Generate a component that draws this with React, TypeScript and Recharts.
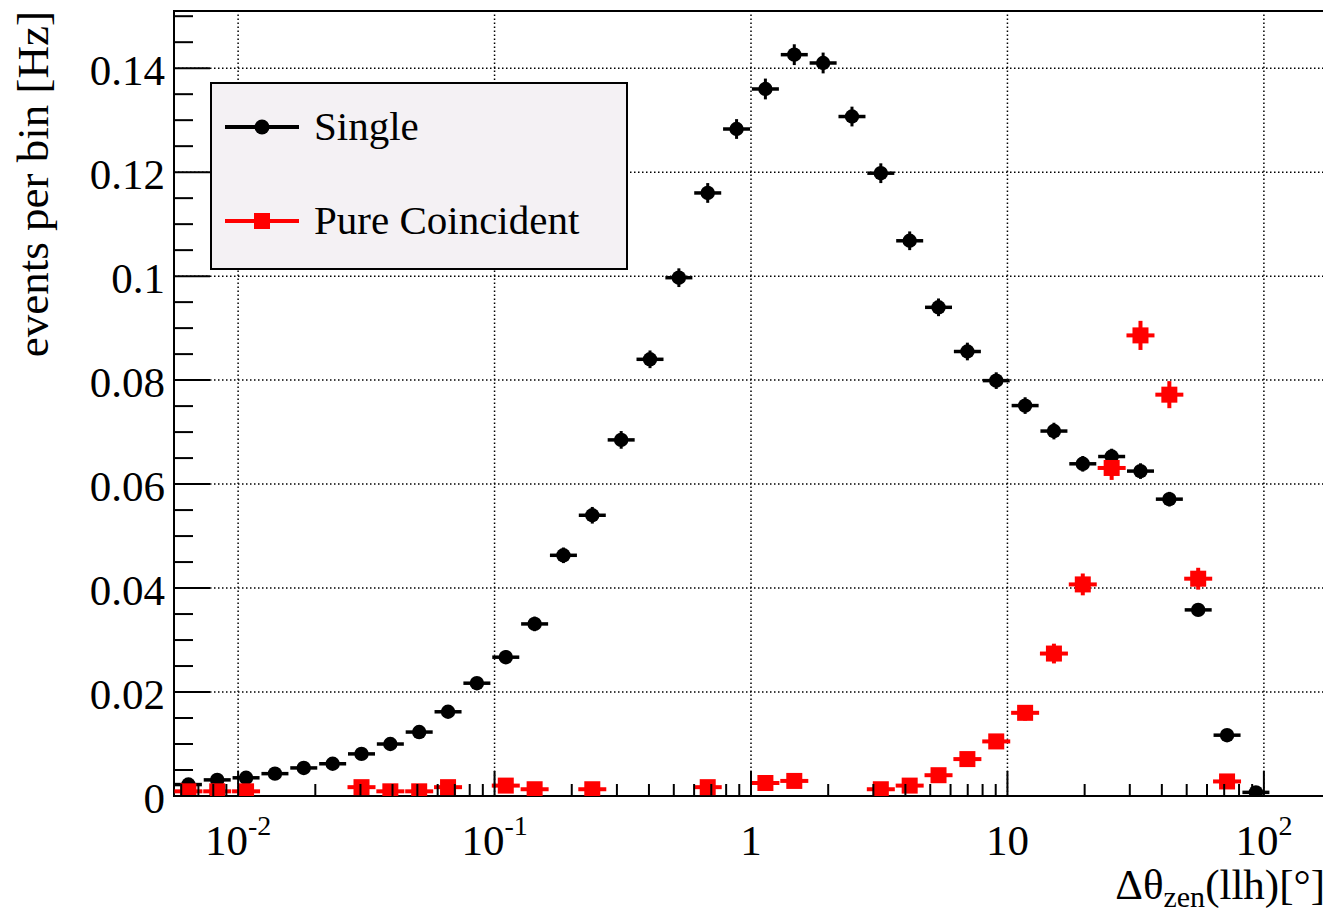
import React from 'react';
import { ScatterChart, Scatter, XAxis, YAxis, ErrorBar, ReferenceLine, ReferenceArea, Legend, Label } from 'recharts';

const FONT = '"Liberation Serif", "Times New Roman", serif';

// log bins, centres in degrees
const binCenters = [
  0.0064, 0.00829, 0.01074, 0.01392, 0.01803, 0.02337, 0.03028, 0.03923, 0.05083, 0.06586,
  0.08533, 0.1106, 0.1433, 0.1856, 0.2405, 0.3117, 0.4038, 0.5233, 0.678, 0.8785,
  1.138, 1.475, 1.911, 2.476, 3.208, 4.157, 5.386, 6.979, 9.043, 11.72,
  15.18, 19.67, 25.49, 33.02, 42.79, 55.44, 71.84, 93.08,
];

const singleRate = [
  0.0022, 0.0031, 0.0035, 0.0043, 0.0054, 0.0062, 0.0081, 0.01, 0.0123, 0.0162,
  0.0217, 0.0267, 0.0331, 0.0463, 0.054, 0.0685, 0.084, 0.0997, 0.116, 0.1283,
  0.136, 0.1426, 0.141, 0.1307, 0.1198, 0.1068, 0.094, 0.0855, 0.0799, 0.0751,
  0.0702, 0.0639, 0.0653, 0.0625, 0.0571, 0.0358, 0.0117, 0.0007,
];

const singleErr = [
  0.0004, 0.0005, 0.0005, 0.0006, 0.0006, 0.0007, 0.0008, 0.0009, 0.001, 0.0011,
  0.0012, 0.0013, 0.0014, 0.0015, 0.0016, 0.0017, 0.0017, 0.0018, 0.0019, 0.0019,
  0.002, 0.002, 0.002, 0.0019, 0.0019, 0.0018, 0.0017, 0.0017, 0.0016, 0.0016,
  0.0016, 0.0015, 0.0015, 0.0015, 0.0014, 0.0012, 0.0007, 0.0002,
];

const coincRate = [
  0.0009, 0.0009, 0.0009, null, null, null, 0.0017, 0.0009, 0.0009, 0.0017,
  null, 0.002, 0.0013, null, 0.0013, null, null, null, 0.0017, null,
  0.0025, 0.0029, null, null, 0.0013, 0.002, 0.004, 0.0071, 0.0105, 0.016,
  0.0274, 0.0407, 0.0631, 0.0886, 0.0772, 0.0418, 0.0028, null,
];

const coincErr = [
  0.0005, 0.0005, 0.0005, null, null, null, 0.0007, 0.0005, 0.0005, 0.0007,
  null, 0.0007, 0.0006, null, 0.0006, null, null, null, 0.0007, null,
  0.0008, 0.0008, null, null, 0.0006, 0.0007, 0.0009, 0.001, 0.0012, 0.0015,
  0.0019, 0.0021, 0.0023, 0.0028, 0.0026, 0.0021, 0.0008, null,
];

const seriesNames = ['Single', 'Pure Coincident'];
const seriesColors = ['#000000', '#ff0000'];

const yMajorTicks = [0, 0.02, 0.04, 0.06, 0.08, 0.1, 0.12, 0.14];
const yMajorLabels = ['0', '0.02', '0.04', '0.06', '0.08', '0.1', '0.12', '0.14'];
const xMajorTicks = [0.01, 0.1, 1, 10, 100];
const xTickBase = ['10', '10', '1', '10', '10'];
const xTickExp = ['-2', '-1', '', '', '2'];

const xMin = Math.pow(10, -2.25);
const xMax = Math.pow(10, 2.25);
const yMax = 0.151;

const yTicks: number[] = [];
for (let k = 0; k <= 30; k++) yTicks.push(+(k * 0.005).toFixed(3));

const xTicks: number[] = [];
[0.001, 0.01, 0.1, 1, 10, 100].forEach((d) => {
  for (let k = 1; k <= 9; k++) {
    const v = +(d * k).toPrecision(3);
    if (v >= xMin && v <= xMax) xTicks.push(v);
  }
});

const singleData = binCenters
  .map((x, i) => ({ x, y: singleRate[i], err: singleErr[i] }))
  .filter((d) => d.y != null);
const coincData = binCenters
  .map((x, i) => ({ x, y: coincRate[i], err: coincErr[i] }))
  .filter((d) => d.y != null);

const majorIndex = (v: number) =>
  xMajorTicks.findIndex((m) => Math.abs(Math.log10(m) - Math.log10(v)) < 1e-6);

const XTick = (props: any) => {
  const { x, y, payload } = props;
  const idx = majorIndex(payload.value);
  const major = idx >= 0;
  return (
    <g>
      <line x1={x} x2={x} y1={y} y2={y - (major ? 25 : 12)} stroke="#000" strokeWidth={2} />
      {major && (
        <text x={x} y={y + 59} textAnchor="middle" fontSize={43} fontFamily={FONT} fill="#000">
          {xTickBase[idx]}
          {xTickExp[idx] && (
            <tspan dy={-20} fontSize={28}>{xTickExp[idx]}</tspan>
          )}
        </text>
      )}
    </g>
  );
};

const YTick = (props: any) => {
  const { x, y, payload } = props;
  const idx = yMajorTicks.findIndex((m) => Math.abs(m - payload.value) < 1e-9);
  const major = idx >= 0;
  return (
    <g>
      <line x1={x} x2={x + (major ? 36 : 19)} y1={y} y2={y} stroke="#000" strokeWidth={2} />
      {major && (
        <text x={x - 9} y={y + 17} textAnchor="end" fontSize={43} fontFamily={FONT} fill="#000">
          {yMajorLabels[idx]}
        </text>
      )}
    </g>
  );
};

const BlackPoint = (props: any) => {
  const { cx, cy } = props;
  return (
    <g>
      <line x1={cx - 13.5} x2={cx + 13.5} y1={cy} y2={cy} stroke="#000" strokeWidth={3.5} />
      <circle cx={cx} cy={cy} r={7.2} fill="#000" />
    </g>
  );
};

const RedPoint = (props: any) => {
  const { cx, cy } = props;
  return (
    <g>
      <line x1={cx - 14} x2={cx + 14} y1={cy} y2={cy} stroke="#ff0000" strokeWidth={4} />
      <rect x={cx - 8} y={cy - 8} width={16} height={16} fill="#ff0000" />
    </g>
  );
};

const LegendBox = () => {
  return (
    <svg width={420} height={190} style={{ display: 'block' }}>
      <rect x={1} y={1} width={416} height={186} fill="#f4f1f4" stroke="#000" strokeWidth={2} />
      {seriesNames.map((name, i) => {
        const cy = i === 0 ? 45 : 139;
        const col = seriesColors[i];
        return (
          <g key={name}>
            <line x1={15} x2={89} y1={cy} y2={cy} stroke={col} strokeWidth={4} />
            {i === 0 ? (
              <circle cx={52} cy={cy} r={7.5} fill={col} />
            ) : (
              <rect x={44} y={cy - 8} width={16} height={16} fill={col} />
            )}
            <text x={104} y={cy + 13} fontSize={41} fontFamily={FONT} fill="#000">
              {name}
            </text>
          </g>
        );
      })}
    </svg>
  );
};

const YTitle = (props: any) => {
  const vb = props.viewBox || { y: 3 };
  return (
    <text
      transform={`translate(40, ${vb.y}) rotate(-90)`}
      textAnchor="end"
      fontSize={45}
      fontFamily={FONT}
      fill="#000"
    >
      events per bin [Hz]
    </text>
  );
};

const XTitle = (props: any) => {
  const vb = props.viewBox || { x: 166, y: 788, width: 1154 };
  return (
    <text
      x={vb.x + vb.width - 3}
      y={vb.y + 103}
      textAnchor="end"
      fontSize={43}
      fontFamily={FONT}
      fill="#000"
    >
      Δθ
      <tspan dy={8} fontSize={30}>zen</tspan>
      <tspan dy={-8} fontSize={43}>(llh)[°]</tspan>
    </text>
  );
};

export default function App() {
  return (
    <div style={{ width: 1323, height: 904, background: '#fff' }}>
      <ScatterChart width={1323} height={904} margin={{ top: 3, right: 3, bottom: 0, left: 0 }}>
        <XAxis
          type="number"
          dataKey="x"
          scale="log"
          domain={[xMin, xMax]}
          allowDataOverflow
          ticks={xTicks}
          interval={0}
          tick={<XTick />}
          tickSize={0}
          tickMargin={0}
          tickLine={false}
          axisLine={false}
          height={116}
        >
          <Label content={<XTitle />} />
        </XAxis>
        <YAxis
          type="number"
          dataKey="y"
          domain={[0, yMax]}
          allowDataOverflow
          ticks={yTicks}
          interval={0}
          tick={<YTick />}
          tickSize={0}
          tickMargin={0}
          tickLine={false}
          axisLine={false}
          width={166}
        >
          <Label content={<YTitle />} />
        </YAxis>
        {xMajorTicks.map((v) => (
          <ReferenceLine key={'vx' + v} x={v} stroke="#000" strokeWidth={1.5} strokeDasharray="1.5 2.5" />
        ))}
        {yMajorTicks.filter((v) => v > 0).map((v) => (
          <ReferenceLine key={'hy' + v} y={v} stroke="#000" strokeWidth={1.5} strokeDasharray="1.5 2.5" />
        ))}
        <ReferenceArea x1={xMin} x2={xMax} y1={0} y2={yMax} fill="none" stroke="#000" strokeWidth={2} ifOverflow="visible" />
        <Legend
          layout="horizontal"
          verticalAlign="middle"
          align="center"
          content={<LegendBox />}
          wrapperStyle={{ left: 202, top: 74, width: 420, height: 190 }}
        />
        <Scatter name={seriesNames[0]} data={singleData} fill={seriesColors[0]} shape={<BlackPoint />} isAnimationActive={false}>
          <ErrorBar dataKey="err" direction="y" width={0} stroke={seriesColors[0]} strokeWidth={3} isAnimationActive={false} />
        </Scatter>
        <Scatter name={seriesNames[1]} data={coincData} fill={seriesColors[1]} shape={<RedPoint />} isAnimationActive={false}>
          <ErrorBar dataKey="err" direction="y" width={0} stroke={seriesColors[1]} strokeWidth={4} isAnimationActive={false} />
        </Scatter>
      </ScatterChart>
    </div>
  );
}
